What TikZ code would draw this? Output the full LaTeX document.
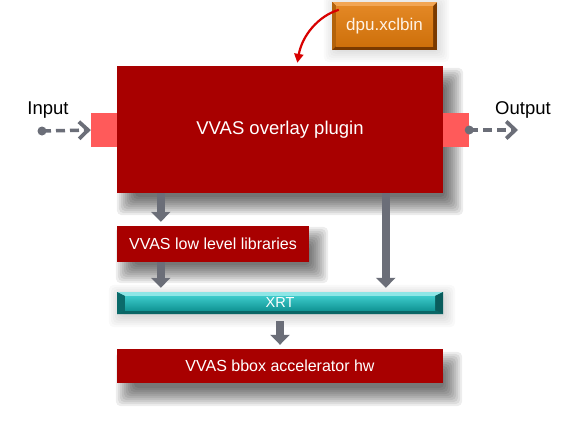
\documentclass[tikz,border=0pt]{standalone}
\usepackage{fontspec}
\setmainfont{Liberation Sans}
\usetikzlibrary{arrows.meta,calc}
\pgfdeclarelayer{back}
\pgfdeclarelayer{shadow}
\pgfsetlayers{back,shadow,main}
\definecolor{vred}{HTML}{A80000}
\definecolor{vpink}{HTML}{FF5A5A}
\definecolor{vgrey}{HTML}{6B6E78}
\definecolor{xrtdark}{HTML}{0E8484}
\definecolor{xrtlight}{HTML}{8EE6E6}
\definecolor{xrtbot}{HTML}{0A6666}
\definecolor{xrtface}{HTML}{3CCACA}
\definecolor{xrtfaceb}{HTML}{129696}
\definecolor{dpuface}{HTML}{E07A0C}
\definecolor{dpulight}{HTML}{F2A553}
\definecolor{dpudark}{HTML}{7A3A00}
\definecolor{dputext}{HTML}{FFF3E6}
\definecolor{arrred}{HTML}{D80000}
\newcommand\boxshadow[4]{%
  \foreach \e in {10,8,...,-8}{%
    \fill[black, opacity=#4, rounded corners=5pt]
      ($(#1.north west)+(#2-\e,#3-\e)$) rectangle ($(#1.south east)+(#2+\e,#3+\e)$);}}
\tikzset{
  redbox/.style={fill=vred, inner sep=0pt, text=white,
    font=\fontsize{16}{19}\selectfont},
  portbox/.style={fill=vpink, inner sep=0pt, minimum width=26pt, minimum height=34pt},
  bigarrow/.style={draw=vgrey, line width=8.5pt, -{Triangle[length=10pt,width=19pt]}},
  dasharrow/.style={draw=vgrey, line width=3.5pt, dash pattern=on 9pt off 5pt,
    -{Straight Barb[length=9pt,width=17pt,line width=3.8pt]}},
  dot/.style={circle, fill=vgrey, inner sep=0pt, minimum size=9pt},
  sidelabel/.style={font=\fontsize{18.5}{21}\selectfont, anchor=base},
  xrtbar/.style={fill=xrtdark, inner sep=0pt, minimum width=326pt, minimum height=22pt,
    text=white, font=\fontsize{14.5}{17}\selectfont,
    path picture={
      \fill[xrtlight] (path picture bounding box.north west) -- (path picture bounding box.north east)
        -- ($(path picture bounding box.north east)+(-8,4)$) -- ($(path picture bounding box.north west)+(8,4)$) -- cycle;
      \fill[xrtbot] (path picture bounding box.south west) -- (path picture bounding box.south east)
        -- ($(path picture bounding box.south east)+(-8,-4)$) -- ($(path picture bounding box.south west)+(8,-4)$) -- cycle;
      \fill[xrtdark!80!black] (path picture bounding box.north west) -- ($(path picture bounding box.north west)+(8,4)$)
        -- ($(path picture bounding box.south west)+(8,-4)$) -- (path picture bounding box.south west) -- cycle;
      \fill[xrtdark!70!black] (path picture bounding box.north east) -- ($(path picture bounding box.north east)+(-8,4)$)
        -- ($(path picture bounding box.south east)+(-8,-4)$) -- (path picture bounding box.south east) -- cycle;
      \shade[top color=xrtface, bottom color=xrtfaceb] ($(path picture bounding box.north west)+(8,4)$)
        rectangle ($(path picture bounding box.south east)+(-8,-4)$);
    }},
  dpubox/.style={fill=dpudark, inner sep=0pt, minimum width=105pt, minimum height=48pt,
    text=dputext, font=\fontsize{17}{20}\selectfont,
    path picture={
      \fill[dpulight] (path picture bounding box.north west) -- (path picture bounding box.north east)
        -- ($(path picture bounding box.north east)+(-4,4)$) -- ($(path picture bounding box.north west)+(4,4)$) -- cycle;
      \fill[dpuface!80!black] (path picture bounding box.north west) -- ($(path picture bounding box.north west)+(4,4)$)
        -- ($(path picture bounding box.south west)+(4,-4)$) -- (path picture bounding box.south west) -- cycle;
      \shade[top color=dpuface!90!white, bottom color=dpuface!92!black] ($(path picture bounding box.north west)+(4,4)$)
        rectangle ($(path picture bounding box.south east)+(-4,-4)$);
    }},
  curvearrow/.style={draw=arrred, line width=2.2pt, -{Triangle[length=9pt,width=9pt]}}
}
\begin{document}
\begin{tikzpicture}[x=1pt,y=-1pt]
\begin{pgfonlayer}{back}
\fill[white] (0,0) rectangle (581,423);
\end{pgfonlayer}
\useasboundingbox (0,0) rectangle (581,423);

% main blocks
\node[redbox, minimum width=326pt, minimum height=127pt, font=\fontsize{18.5}{21}\selectfont] (main) at (280,129.5) {VVAS overlay plugin};
\node[redbox, minimum width=192pt, minimum height=36pt] (low) at (213,244) {VVAS low level libraries};
\node[xrtbar] (xrt) at (280,303) {XRT};
\node[redbox, minimum width=326pt, minimum height=34pt] (hw) at (280,366) {VVAS bbox accelerator hw};

% ports
\node[portbox] (lport) at (104,130) {};
\node[portbox] (rport) at (456,130) {};

% dpu.xclbin
\node[dpubox] (dpu) at (384.5,26) {dpu.xclbin};

% shadows
\begin{pgfonlayer}{shadow}
\boxshadow{main}{10}{12}{0.075}
\boxshadow{low}{9}{11}{0.07}
\boxshadow{hw}{9}{13}{0.07}
\boxshadow{xrt}{2}{3}{0.025}
\boxshadow{dpu}{2}{2}{0.02}
\end{pgfonlayer}

% labels
\node[sidelabel] (inlabel) at (48,114) {Input};
\node[sidelabel] (outlabel) at (523,114) {Output};

% input / output dashed arrows
\node[dot] (indot) at (42,131) {};
\node[dot] (outdot) at (rport.east |- 0,130) {};
\coordinate (outend) at (518,130);
\draw[dasharrow] (indot.center) -- (lport.west);
\draw[dasharrow] (outdot.center) -- (outend);

% grey thick arrows
\draw[bigarrow, shorten >=4pt] ($(main.south west)+(44,0)$) -- ($(low.north west)+(44,0)$);
\draw[bigarrow, shorten >=4pt] ($(low.south west)+(44,0)$) -- ($(xrt.north west)+(44,0)$);
\draw[bigarrow, shorten >=4pt] ($(main.south west)+(269,0)$) -- ($(xrt.north west)+(269,0)$);
\draw[bigarrow, shorten <=7pt, shorten >=4pt] (xrt.south) -- (hw.north);

% red curved arrow
\coordinate (cstart) at ($(dpu.north west)+(7,8)$);
\draw[curvearrow, shorten >=3pt] (cstart) .. controls (318,16) and (302,36) .. ($(main.north west)+(180,0)$);
\end{tikzpicture}
\end{document}
